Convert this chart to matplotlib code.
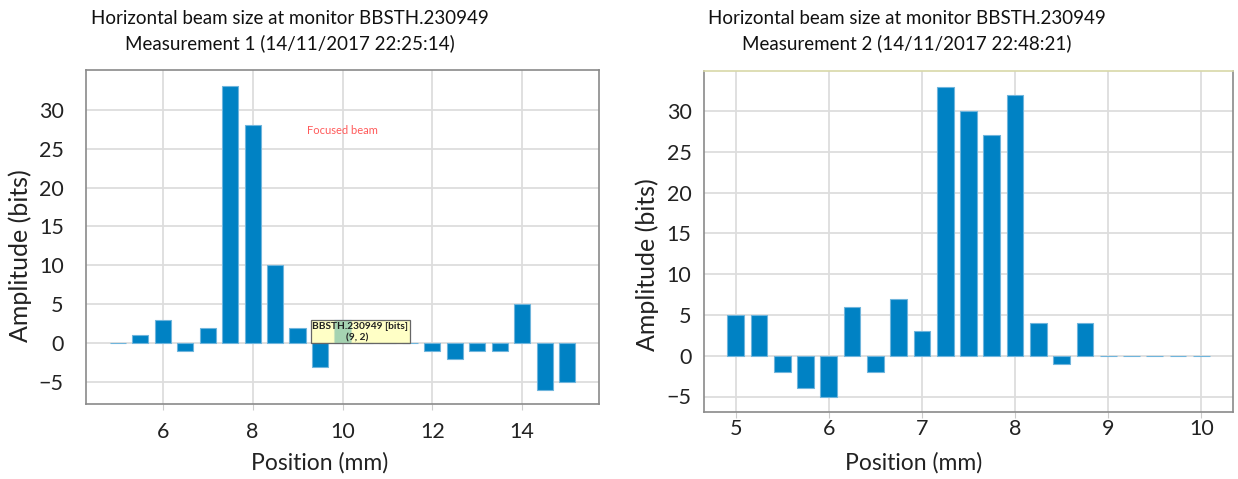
import matplotlib
matplotlib.use("Agg")
from matplotlib import pyplot as plt
from matplotlib.patches import Rectangle

plt.rcParams['font.family'] = ['Lato', 'DejaVu Sans']

# measurement 1
pos1 = [5.0, 5.5, 6.0, 6.5, 7.0, 7.5, 8.0, 8.5, 9.0, 9.5, 10.0,
        10.5, 11.0, 11.5, 12.0, 12.5, 13.0, 13.5, 14.0, 14.5, 15.0]
amp1 = [0, 1, 3, -1, 2, 33, 28, 10, 2, -3, 3,
        0, 0, 0, -1, -2, -1, -1, 5, -6, -5]

# measurement 2
pos2 = [5.0, 5.25, 5.5, 5.75, 6.0, 6.25, 6.5, 6.75, 7.0, 7.25, 7.5,
        7.75, 8.0, 8.25, 8.5, 8.75, 9.0, 9.25, 9.5, 9.75, 10.0]
amp2 = [5, 5, -2, -4, -5, 6, -2, 7, 3, 33, 30,
        27, 32, 4, -1, 4, 0, 0, 0, 0, 0]

yticks = [-5, 0, 5, 10, 15, 20, 25, 30]
xticks1 = [6, 8, 10, 12, 14]
xticks2 = [5, 6, 7, 8, 9, 10]

titles = ["Horizontal beam size at monitor BBSTH.230949\nMeasurement 1 (14/11/2017 22:25:14)",
          "Horizontal beam size at monitor BBSTH.230949\nMeasurement 2 (14/11/2017 22:48:21)"]

W, H = 1238, 479
fig = plt.figure(figsize=(W / 100, H / 100), dpi=100)

def box(x0, x1, y0, y1):
    return [x0 / W, 1 - y1 / H, (x1 - x0) / W, (y1 - y0) / H]

ax1 = fig.add_axes(box(86, 599, 70, 404))
ax2 = fig.add_axes(box(704, 1233, 71, 412))

blue = '#0082c4'
edge = '#6fb5dc'

ax1.bar(pos1, amp1, width=0.36, color=blue, edgecolor=edge, linewidth=0.8, zorder=3)
ax2.bar(pos2, amp2, width=0.18, color=blue, edgecolor=edge, linewidth=0.8, zorder=3)

ax1.set_xlim(4.29, 15.71)
ax1.set_ylim(-7.8, 35.1)
ax1.set_xticks(xticks1)
ax2.set_xlim(4.66, 10.34)
ax2.set_ylim(-6.9, 34.9)
ax2.set_xticks(xticks2)

for ax in (ax1, ax2):
    ax.set_yticks(yticks)
    ax.grid(True, color='#dddddd', linewidth=1.3, zorder=0)
    ax.set_axisbelow(True)
    for s in ax.spines.values():
        s.set_color('#8a8a8a')
        s.set_linewidth(1.2)
    ax.tick_params(axis='both', labelsize=15.5, colors='#222222', length=0)
    ax.set_xlabel("Position (mm)", fontsize=16.5, color='#222222')
    ax.set_ylabel("Amplitude (bits)", fontsize=18, color='#222222')
    ax.xaxis.label.set_verticalalignment('center')
    ax.yaxis.label.set_verticalalignment('center')

ax1.tick_params(axis='y', pad=16)
ax1.tick_params(axis='x', length=4, color='#cccccc', pad=9)
ax2.tick_params(axis='y', pad=9)
ax2.tick_params(axis='x', length=4, color='#cccccc', pad=1)
ax2.spines['top'].set_color('#d8d8a8')

ax1.xaxis.set_label_coords(0.456, -0.177)
ax1.yaxis.set_label_coords(-0.129, 0.443)
ax2.xaxis.set_label_coords(0.397, -0.150)
ax2.yaxis.set_label_coords(-0.108, 0.431)

fig.text(290 / W, 1 - 31 / H, titles[0], ha='center', va='center', fontsize=13.5,
         color='#111111', linespacing=1.44)
fig.text(907 / W, 1 - 31 / H, titles[1], ha='center', va='center', fontsize=13.5,
         color='#111111', linespacing=1.44)

# annotation and tooltip on the first chart
ax1.text(10.0, 27.3, "Focused beam", color='#ff5a5a', fontsize=8, ha='center', va='center')
ax1.add_patch(Rectangle((9.30, 0), 2.21, 3.0, facecolor='#ffffa8', alpha=0.65,
                        edgecolor='none', zorder=4))
ax1.add_patch(Rectangle((9.30, 0), 2.21, 3.0, facecolor='none',
                        edgecolor='#666666', linewidth=0.9, zorder=5))
ax1.text(10.4, 2.1, "BBSTH.230949 [bits]", fontsize=7.3, fontweight='bold',
         color='#222222', ha='center', va='center', zorder=6)
ax1.text(10.32, 0.7, "(9, 2)", fontsize=7.3, fontweight='bold',
         color='#222222', ha='center', va='center', zorder=6)

fig.savefig("out.png", dpi=100)
